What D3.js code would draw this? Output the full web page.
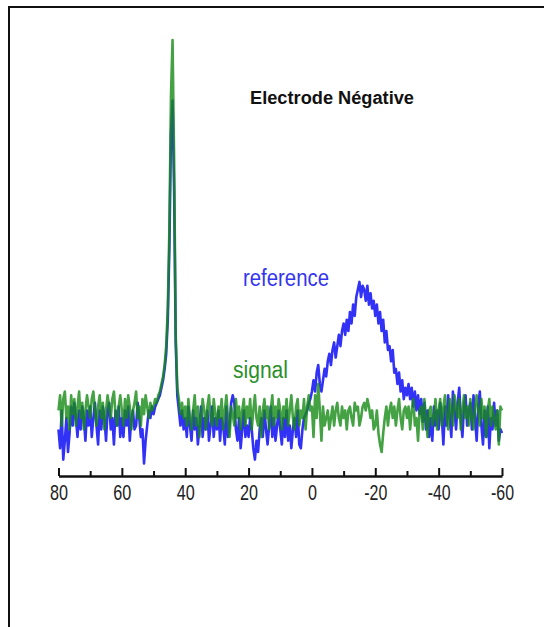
<!DOCTYPE html>
<html><head><meta charset="utf-8">
<script src="https://cdn.jsdelivr.net/npm/d3@7/dist/d3.min.js"></script>
<style>body{margin:0;background:#fff;}svg{display:block;}</style>
</head><body>
<svg id="c" width="544" height="627"></svg>
<script>
// x positions: start at 80, step -0.5 down to -60
const xStart = 80, xStep = -0.5;
const majorTicks = [80, 60, 40, 20, 0, -20, -40, -60];
const minorTicks = [70, 50, 30, 10, -10, -30, -50];
const tickLabels = ["80", "60", "40", "20", "0", "-20", "-40", "-60"];
const titleText = "Electrode Négative";
const seriesNames = ["reference", "signal"];

const signal = [
  2, 6, -2, 5, 7, 0, 3, -3, 6, 1, 5, -2, 3, 7, 0, 4, -3, 2, 6, 3,
  0, 5, 7, 2, -2, 3, 6, 0, 4, -3, 2, 6, 3, 0, 5, 7, 1, -2, 3, 6,
  2, -2, 5, 0, 6, 3, -3, 2, 4, 7, 0, 3, -2, 5, 1, 6, 3, 0, 4, 2,
  3, 5, 4, 6, 7, 9, 11, 14, 19, 29, 50, 85, 100, 68, 22, 8, 5, 1, 4, 0,
  3, -2, 5, 0, -3, 2, 6, -2, 3, -5, 0, 5, 2, -3, 3, 6, 0, -2, 5, 1,
  -2, 3, 0, 5, -3, 2, 6, 0, -5, 3, 1, -2, 5, 0, 3, -3, 2, 5, -2, 3,
  0, 5, -3, 2, 6, 0, -2, 3, -5, 2, 5, 0, 3, -3, 2, 6, -2, 3, 0, 5,
  2, -3, 3, 0, 5, -2, 2, 6, 0, -3, 3, 5, -2, 2, 0, 5, -3, 3, 6, 2,
  3, -5, 6, 0, 9, 2, -6, 3, -2, 0, 2, -3, 0, 3, -2, 2, 4, 0, -2, 3,
  0, 2, -3, 2, 3, 0, -2, 4, 2, 3, -2, 0, 3, 4, 2, 5, 3, 0, 2, -3,
  -2, 2, -4, -7, -9, -4, 0, 3, -2, 2, 4, 0, 3, -2, 2, 5, 0, -3, 2, 3,
  0, 3, -3, 2, 5, -2, 0, -6, 2, 3, -3, 5, 0, -5, 2, 3, -2, 0, 5, -3,
  2, 5, -2, 3, 6, 0, -3, 5, 2, -2, 6, 3, 0, 5, -3, 2, 6, 0, 3, -2,
  5, 0, -3, 3, 6, 2, -2, 5, 0, 3, -5, 2, 5, -2, 3, 0, -3, 2, -7, 3,
  2
];

const reference = [
  -3, -8, 2, -11, -6, 0, -9, -4, 3, -2, 4, 0, -5, 2, -3, 3, 0, -6, 2, -2,
  3, -5, 0, 4, -2, -7, 2, -3, 3, 0, -6, 2, 4, -3, 0, -7, 2, -2, 3, -5,
  0, -5, 2, -2, 3, -6, 0, 2, -3, -2, 4, 0, -5, -3, -12, -6, -2, 2, 0, 3,
  1, 3, 4, 5, 6, 8, 10, 13, 17, 26, 45, 75, 84, 60, 20, 6, 2, -2, 2, -3,
  0, -5, 3, -2, -6, 2, -3, 0, -7, -2, 3, -5, 0, -3, 2, -6, -2, 3, -5, 0,
  -3, 2, -6, 0, -2, -7, 3, -5, -2, 4, 6, 4, -3, -6, 0, -8, -3, 2, -5, -2,
  -5, 0, -3, -8, -11, -6, -9, -3, 0, -5, 2, -3, -7, -2, 3, -5, 0, -6, -2, 2,
  -3, -7, 0, -5, 2, -6, -2, -8, -3, 0, -5, 2, -7, -8, -3, 0, 1, 2, 4, 5,
  7, 10, 7, 12, 14, 9, 7, 10, 13, 11, 15, 17, 14, 18, 20, 16, 19, 22, 19, 23,
  25, 22, 26, 23, 28, 25, 30, 27, 32, 34, 36, 32, 35, 34, 31, 35, 30, 33, 29, 31,
  27, 30, 25, 28, 23, 26, 20, 23, 18, 19, 15, 18, 12, 13, 9, 12, 7, 10, 5, 8,
  6, 9, 5, 8, 3, 7, 2, 6, 1, 5, -1, 4, -3, 2, -5, 0, -6, 3, -2, 2,
  -3, 4, 0, -7, 3, -2, 6, 0, -5, 7, 2, -3, 4, 8, 0, -5, 3, 6, -2, 2,
  4, -3, 6, 0, -6, 3, 7, -2, -7, 2, -5, 3, -8, 0, -3, 4, -2, 2, -6, -3,
  -4
];

const svg = d3.select("#c");

// frame
svg.append("rect").attr("x", 9).attr("y", 7).attr("width", 560).attr("height", 640)
  .attr("fill", "none").attr("stroke", "#111").attr("stroke-width", 2);

const x = d3.scaleLinear().domain([80, -60]).range([58.5, 502]);
const y = d3.scaleLinear().domain([0, 100]).range([418, 40]);

const line = d3.line()
  .x((d, i) => x(xStart + i * xStep))
  .y(d => y(d));

svg.append("path").datum(reference).attr("d", line)
  .attr("fill", "none").attr("stroke", "#1c1cf5").attr("stroke-opacity", 0.9)
  .attr("stroke-width", 2.6).attr("stroke-linejoin", "round");
svg.append("path").datum(signal).attr("d", line)
  .attr("fill", "none").attr("stroke", "#158a15").attr("stroke-opacity", 0.8)
  .attr("stroke-width", 2.6).attr("stroke-linejoin", "round");

// axis
const axisY = 476;
const gMinor = svg.append("g").attr("transform", `translate(0,${axisY})`)
  .call(d3.axisBottom(x).tickValues(minorTicks).tickSize(-5).tickSizeOuter(0).tickFormat(""));
gMinor.select(".domain").remove();
gMinor.selectAll("line").attr("stroke", "#111").attr("stroke-width", 2);

const gAxis = svg.append("g").attr("transform", `translate(0,${axisY})`)
  .call(d3.axisBottom(x).tickValues(majorTicks).tickSize(-8).tickSizeOuter(0).tickPadding(8)
    .tickFormat((d, i) => tickLabels[i]));
gAxis.select(".domain").attr("stroke", "#111").attr("stroke-width", 2.5);
gAxis.selectAll(".tick line").attr("stroke", "#111").attr("stroke-width", 2);
gAxis.selectAll(".tick text")
  .attr("font-family", "'Liberation Sans Narrow', 'Liberation Sans', Arial, sans-serif")
  .attr("font-size", 22).attr("fill", "#222")
  .attr("textLength", (d, i) => tickLabels[i].replace("-", "").length * 9 + (tickLabels[i].startsWith("-") ? 5 : 0))
  .attr("lengthAdjust", "spacingAndGlyphs");

// title
svg.append("text").attr("x", 250).attr("y", 104).text(titleText)
  .attr("font-family", "'Liberation Sans', Arial, sans-serif").attr("font-weight", "bold")
  .attr("font-size", 18).attr("fill", "#111")
  .attr("textLength", 164).attr("lengthAdjust", "spacingAndGlyphs");

// series labels
svg.append("text").attr("x", 243).attr("y", 286).text(seriesNames[0])
  .attr("font-family", "'Liberation Sans', Arial, sans-serif").attr("font-size", 23)
  .attr("fill", "#3434f0").attr("textLength", 86).attr("lengthAdjust", "spacingAndGlyphs");
svg.append("text").attr("x", 233).attr("y", 378).text(seriesNames[1])
  .attr("font-family", "'Liberation Sans', Arial, sans-serif").attr("font-size", 23)
  .attr("fill", "#2a8f2a").attr("textLength", 55).attr("lengthAdjust", "spacingAndGlyphs");
</script>
</body></html>
